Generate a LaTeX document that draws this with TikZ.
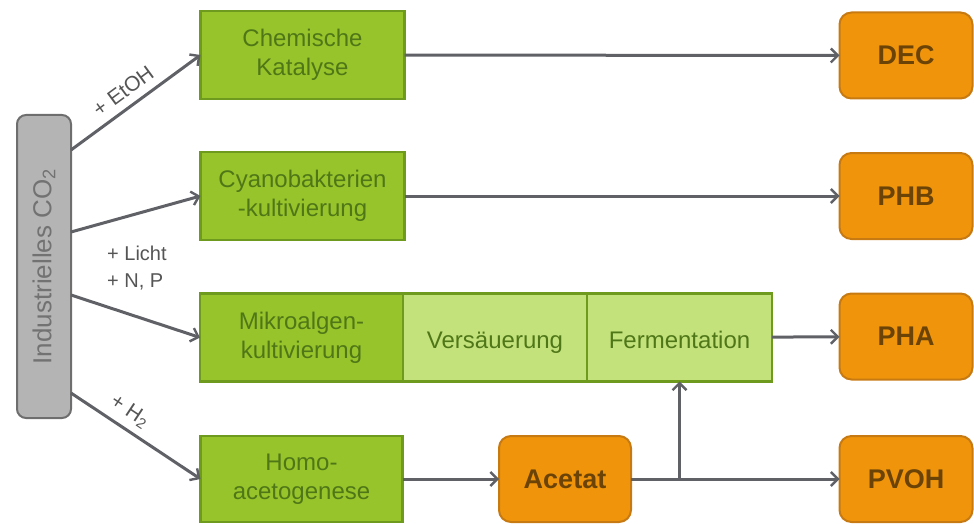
\documentclass[tikz,border=0pt]{standalone}
\usepackage{fontspec}
\setmainfont{Liberation Sans}
\usetikzlibrary{arrows.meta, positioning, calc}

\definecolor{procgreen}{HTML}{97C42A}
\definecolor{lightgreen}{HTML}{C3E27C}
\definecolor{greenborder}{HTML}{6E9A1E}
\definecolor{greentext}{HTML}{4F7718}
\definecolor{prodorange}{HTML}{F0950B}
\definecolor{orangeborder}{HTML}{C77A12}
\definecolor{browntext}{HTML}{6B4306}
\definecolor{co2gray}{HTML}{B4B4B4}
\definecolor{co2border}{HTML}{6E6E6E}
\definecolor{co2text}{HTML}{727272}
\definecolor{arrowgray}{HTML}{5F6167}
\definecolor{labelgray}{HTML}{555555}

\begin{document}
\begin{tikzpicture}[x=1pt, y=-1pt,
    arr/.style={line width=3pt, draw=arrowgray,
        -{Straight Barb[length=7pt, width=14pt, line width=2.4pt]}},
    proc/.style={draw=greenborder, line width=2.5pt, fill=procgreen, text=greentext,
        minimum width=204pt, minimum height=88pt, align=center,
        inner sep=0pt, outer sep=0pt, font=\fontsize{24}{29}\selectfont},
    subproc/.style={proc, fill=lightgreen, minimum width=184pt,
        text height=21pt, text depth=0pt},
    prod/.style={draw=orangeborder, line width=2pt, fill=prodorange, text=browntext,
        rounded corners=12pt, minimum width=133pt, minimum height=86pt,
        inner sep=0pt, outer sep=0pt, font=\bfseries\fontsize{27}{32}\selectfont},
    lbl/.style={text=labelgray, inner sep=1pt, font=\fontsize{20}{27}\selectfont}]

    \useasboundingbox (0,0) rectangle (974,524);

    % Source
    \node[draw=co2border, line width=2pt, fill=co2gray, rounded corners=9pt,
        minimum width=54pt, minimum height=303pt, inner sep=0pt, outer sep=0pt]
        (co2) at (44,266.5) {};
    \node[rotate=90, text=co2text, font=\fontsize{26}{30}\selectfont]
        (co2lbl) at (co2.center) {Industrielles CO\textsubscript{2}};

    % Process boxes
    \node[proc] (chem) at (302.5,55) {Chemische\\Katalyse};
    \node[proc] (cyano) at (302.5,196) {Cyanobakterien\\-kultivierung};
    \node[proc, minimum width=203pt] (mikro) at (301.5,337.5) {Mikroalgen-\\kultivierung};
    \node[subproc, right=0pt of mikro] (vers) {Vers\"auerung};
    \node[subproc, minimum width=185pt, right=0pt of vers] (ferm) {Fermentation};
    \node[proc, minimum width=202pt, minimum height=86pt] (homo) at (301.5,479) {Homo-\\acetogenese};

    % Products
    \node[prod, minimum width=132pt] (acetat) at (565,479) {Acetat};
    \node[prod] (dec) at (906,55.5) {DEC};
    \node[prod] (phb) at (906,196) {PHB};
    \node[prod] (pha) at (906,336.5) {PHA};
    \node[prod] (pvoh) at (906,479) {PVOH};

    % Arrows from CO2
    \draw[arr] ([yshift=116.5pt]co2.east) -- node[lbl, sloped, above=7pt, pos=0.48,
        font=\fontsize{21}{27}\selectfont] {+ EtOH} (chem.west);
    \draw[arr] ([yshift=34.5pt]co2.east) -- (cyano.west);
    \draw[arr] ([yshift=-28.5pt]co2.east) -- (mikro.west);
    \draw[arr] ([yshift=-126.5pt]co2.east) -- node[lbl, sloped, above=6pt, pos=0.38,
        font=\fontsize{21}{27}\selectfont] {+ H\textsubscript{2}} (homo.west);
    \node[lbl, align=left, anchor=west] (nutr) at (106,268) {+ Licht\\+ N, P};

    % Arrows to products
    \draw[arr] (chem) -- (dec);
    \draw[arr] (cyano) -- (phb);
    \draw[arr] (ferm) -- (pha);
    \draw[arr] (homo) -- (acetat);
    \draw[arr] (acetat) -- (pvoh);
    \draw[arr] (ferm.south |- acetat.east) -- (ferm.south);
\end{tikzpicture}
\end{document}
